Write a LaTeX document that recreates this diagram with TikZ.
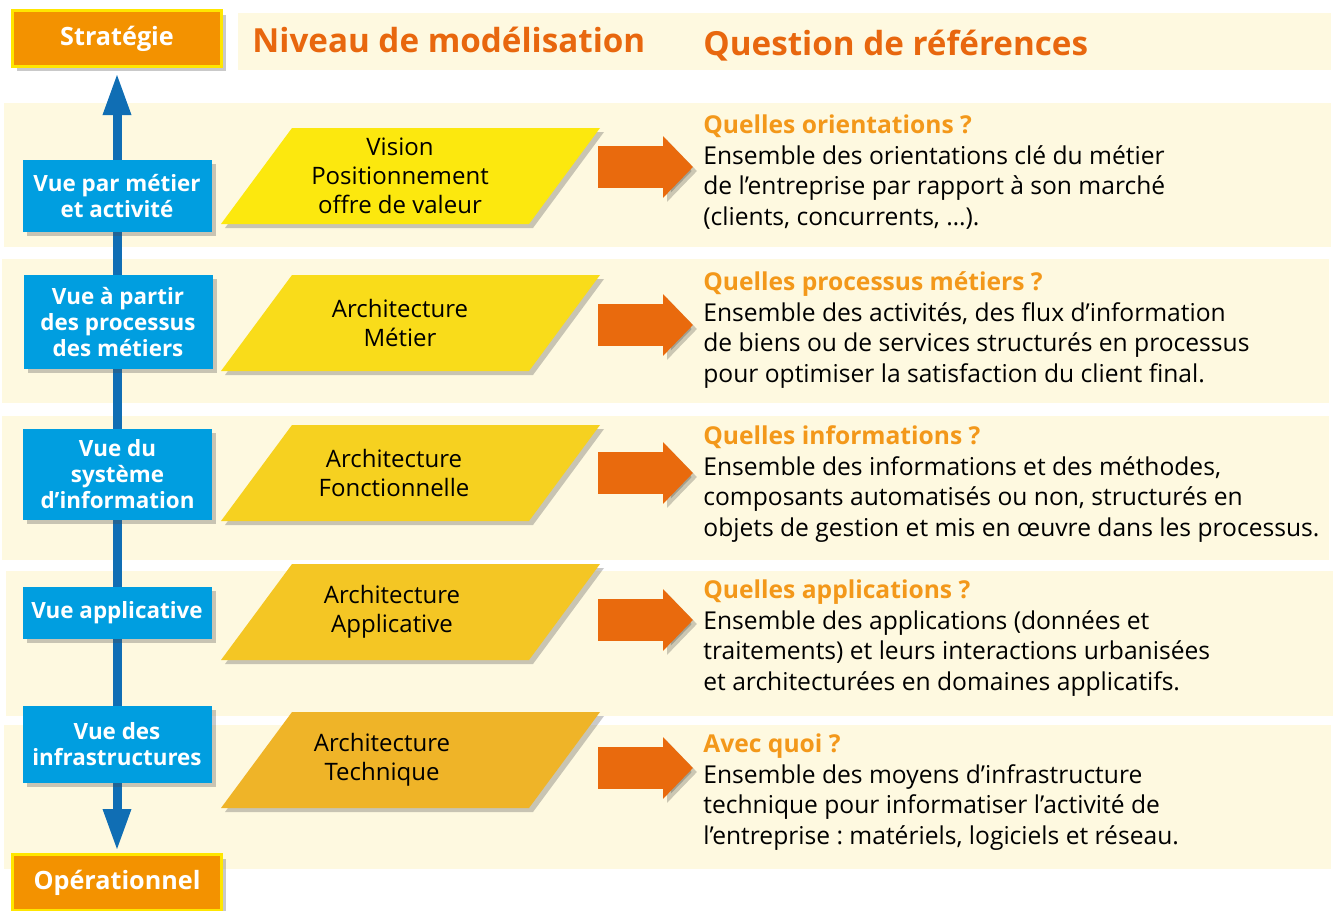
\documentclass[tikz,border=0pt]{standalone}
\usepackage{fontspec}
\setmainfont{Open Sans}
\usepackage{xcolor}
\usepackage{tikz}
\usetikzlibrary{positioning, arrows.meta, shapes.geometric, shadows}
\definecolor{bandcream}{RGB}{254,249,224}
\definecolor{vueblue}{RGB}{0,158,224}
\definecolor{axisblue}{RGB}{16,110,180}
\definecolor{levelorange}{RGB}{243,146,0}
\definecolor{levelyellow}{RGB}{255,230,0}
\definecolor{headorange}{RGB}{232,103,14}
\definecolor{questorange}{RGB}{243,152,26}
\definecolor{flecheorange}{RGB}{233,106,13}
\definecolor{archA}{RGB}{252,232,14}
\definecolor{archB}{RGB}{249,220,26}
\definecolor{archC}{RGB}{246,209,32}
\definecolor{archD}{RGB}{244,198,36}
\definecolor{archE}{RGB}{239,180,40}
\tikzset{
    ombre/.style={drop shadow={shadow xshift=2pt, shadow yshift=-2pt, opacity=0.3, fill=black!70}},
    band/.style={fill=bandcream, draw=none},
    level/.style={rectangle, draw=levelyellow, line width=1.5pt, fill=levelorange, minimum width=104.5pt, minimum height=28pt, inner sep=0pt, text=white, font=\fontsize{12.6}{14}\selectfont\bfseries, ombre},
    vue/.style={rectangle, fill=vueblue, text=white, align=center, minimum width=94.5pt, inner sep=0pt, font=\fontsize{11.2}{13}\selectfont\bfseries, ombre},
    archi/.style={ombre},
    archtxt/.style={align=center, inner sep=0pt, font=\fontsize{12}{14.5}\selectfont},
    fleche/.style={draw=flecheorange, line width=21pt, -{Triangle[length=15pt, width=30pt]}, preaction={draw=black, opacity=0.2, transform canvas={shift={(2pt,-2pt)}}}},
    quest/.style={anchor=base west, align=left, inner sep=0pt, font=\fontsize{12.3}{15.25}\selectfont\frenchspacing},
    titre/.style={anchor=base west, inner sep=0pt, text=headorange, font=\fontsize{16.6}{20}\selectfont\bfseries}
}
\newcommand{\qtitle}[1]{{\color{questorange}\bfseries #1}}

\begin{document}
\begin{tikzpicture}[x=0.5pt, y=-0.5pt]
    \useasboundingbox (0,0) rectangle (1337,910);

    % Bands
    \fill[band] (238,13) rectangle (1331,70);
    \fill[band] (4,103) rectangle (1331,247);
    \fill[band] (2,259) rectangle (1329,403);
    \fill[band] (2,416) rectangle (1329,560);
    \fill[band] (6,571) rectangle (1333,716);
    \fill[band] (4,725) rectangle (1331,869);

    % Column titles
    \node[titre] (niveau) at (252,52) {Niveau de modélisation};
    \node[titre] (question) at (703,55) {Question de références};

    % Strategy / operational axis
    \node[level] (strat) at (117,38.5) {Stratégie};
    \node[level] (oper) at (117,882.5) {Opérationnel};
    \draw[axisblue, line width=4.5pt, {Triangle[length=21pt, width=13pt]}-{Triangle[length=21pt, width=13pt]}, shorten <=1pt, shorten >=2.5pt] (oper) -- (strat);

    % Views
    \node[vue, minimum height=36pt] (v1) at (117,196) {Vue par métier\\et activité};
    \node[vue, minimum height=47pt] (v2) at (118,322) {Vue à partir\\des processus\\des métiers};
    \node[vue, minimum height=45.5pt] (v3) at (117.5,474.5) {Vue du\\système\\d’information};
    \node[vue, minimum height=26pt] (v4) at (117,613) {Vue applicative};
    \node[vue, minimum height=38.5pt] (v5) at (117,744.5) {Vue des\\infrastructures};

    % Modelling levels
    \foreach \t/\c in {128/archA, 275/archB, 425/archC, 564/archD, 712/archE} {
        \fill[archi, fill=\c] (221,{\t+96}) -- (292,\t) -- (600,\t) -- (529,{\t+96}) -- cycle;
    }
    \node[archtxt] (p1) at (400,175.5) {Vision\\Positionnement\\offre de valeur};
    \node[archtxt] (p2) at (400,323) {Architecture\\Métier};
    \node[archtxt] (p3) at (394,473) {Architecture\\Fonctionnelle};
    \node[archtxt] (p4) at (392,612) {Architecture\\Applicative};
    \node[archtxt] (p5) at (382,760) {Architecture\\Technique};

    % Arrows
    \foreach \y [count=\i] in {167,325,473,620,768} {
        \coordinate (fa\i) at (598,\y);
        \coordinate (fb\i) at (693,\y);
        \draw[fleche] (fa\i) -- (fb\i);
    }

    % Questions (anchored on the last line)
    \node[quest] (q1) at (703,225) {\qtitle{Quelles orientations ?}\\Ensemble des orientations clé du métier\\de l’entreprise par rapport à son marché\\(clients, concurrents, …).};
    \node[quest] (q2) at (703,382) {\qtitle{Quelles processus métiers ?}\\Ensemble des activités, des flux d’information\\de biens ou de services structurés en processus\\pour optimiser la satisfaction du client final.};
    \node[quest] (q3) at (703,536) {\qtitle{Quelles informations ?}\\Ensemble des informations et des méthodes,\\composants automatisés ou non, structurés en\\objets de gestion et mis en œuvre dans les processus.};
    \node[quest] (q4) at (703,690) {\qtitle{Quelles applications ?}\\Ensemble des applications (données et\\traitements) et leurs interactions urbanisées\\et architecturées en domaines applicatifs.};
    \node[quest] (q5) at (703,844) {\qtitle{Avec quoi ?}\\Ensemble des moyens d’infrastructure\\technique pour informatiser l’activité de\\l’entreprise : matériels, logiciels et réseau.};
\end{tikzpicture}
\end{document}
